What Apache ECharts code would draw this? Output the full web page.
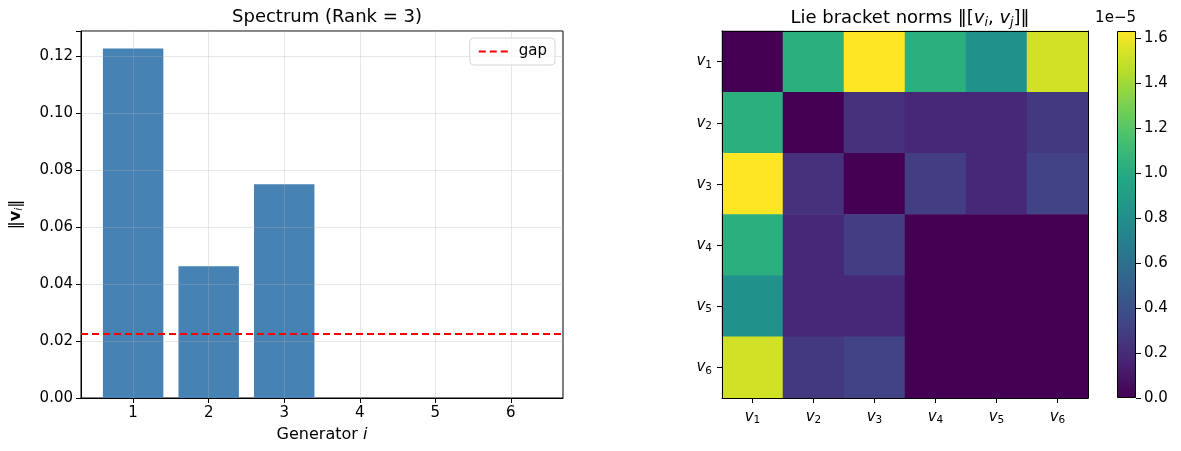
<!DOCTYPE html>
<html>
<head>
<meta charset="utf-8">
<script src="https://cdn.jsdelivr.net/npm/echarts@6/dist/echarts.min.js"></script>
<style>
  html, body { margin: 0; padding: 0; background: #fff; }
  #chart { width: 1181px; height: 451px; }
</style>
</head>
<body>
<div id="chart"></div>
<script>
// ---- data ----
// left: generator norms ||v_i||
const GENERATORS = [1, 2, 3, 4, 5, 6];
const NORMS = [0.1228, 0.0463, 0.0751, 0.00002, 0.00001, 0.000005];
const GAP_VALUE = 0.0225;
const NORM_TICKS = [0, 0.02, 0.04, 0.06, 0.08, 0.10, 0.12];

// right: Lie bracket norms, in units of 1e-5
const HEAT_LABELS = ["1", "2", "3", "4", "5", "6"];
const ROW_1 = [0, 1.03, 1.633, 1.03, 0.82, 1.52];
const ROW_2 = [1.03, 0, 0.23, 0.18, 0.18, 0.27];
const ROW_3 = [1.633, 0.23, 0, 0.29, 0.18, 0.32];
const ROW_4 = [1.03, 0.18, 0.29, 0, 0, 0];
const ROW_5 = [0.82, 0.18, 0.18, 0, 0, 0];
const ROW_6 = [1.52, 0.27, 0.32, 0, 0, 0];
const CBAR_TICKS = [0, 0.2, 0.4, 0.6, 0.8, 1.0, 1.2, 1.4, 1.6];
const CBAR_EXP = "1e\u22125";

// ---- style ----
const FONT = "DejaVu Sans";
const BAR_COLOR = "#4682b4";
const GRID_LINE = "rgba(176,176,176,0.3)";
const VIRIDIS = [
  "#440154", "#482475", "#414487", "#355f8d", "#2a788e", "#21918c",
  "#22a884", "#44bf70", "#7ad151", "#bddf26", "#fde725",
];

const rows = [ROW_1, ROW_2, ROW_3, ROW_4, ROW_5, ROW_6];
const heatData = [];
rows.forEach(function (row, i) {
  row.forEach(function (v, j) { heatData.push([j, i, v]); });
});
const heatMax = Math.max.apply(null, heatData.map(function (d) { return d[2]; }));

// matplotlib style x range: bars of width 0.8 plus 5% margins
const BAR_HALF = 0.4;
const xSpan = (GENERATORS[GENERATORS.length - 1] + BAR_HALF) - (GENERATORS[0] - BAR_HALF);
const X_MIN = GENERATORS[0] - BAR_HALF - 0.05 * xSpan;
const X_MAX = GENERATORS[GENERATORS.length - 1] + BAR_HALF + 0.05 * xSpan;
const Y_MAX = Math.max.apply(null, NORMS) * 1.05;

const subRich = {
  v: { fontFamily: FONT, fontSize: 15, fontStyle: "italic", fontWeight: "normal", color: "#000" },
  s: { fontFamily: FONT, fontSize: 10.5, fontWeight: "normal", color: "#000", padding: [7, 0, 0, 0] },
};
function vLabel(k) { return "{v|v}{s|" + k + "}"; }

const chart = echarts.init(document.getElementById("chart"), null, { renderer: "canvas" });

const tickStyle = { show: true, inside: false, length: 5, lineStyle: { color: "#000", width: 1 } };
const lineStyle = { show: true, lineStyle: { color: "#000", width: 1 } };

chart.setOption({
  animation: false,
  textStyle: { fontFamily: FONT, color: "#000" },
  title: [
    {
      text: "Spectrum (Rank = 3)",
      left: 322, top: 3, textAlign: "center",
      textStyle: { fontFamily: FONT, fontSize: 18, fontWeight: "normal", color: "#000" },
    },
    {
      text: "{t|Lie bracket norms \u2016[}{v|v}{s|i}{t|, }{v|v}{s|j}{t|]\u2016}",
      left: 905, top: 3, textAlign: "center",
      textStyle: {
        fontWeight: "normal",
        rich: {
          t: { fontFamily: FONT, fontSize: 18, fontWeight: "normal", color: "#000" },
          v: { fontFamily: FONT, fontSize: 18, fontStyle: "italic", fontWeight: "normal", color: "#000" },
          s: { fontFamily: FONT, fontSize: 12.5, fontStyle: "italic", fontWeight: "normal", color: "#000", padding: [8, 0, 0, 0] },
        },
      },
    },
  ],
  legend: {
    data: ["gap"],
    right: 626, top: 38,
    orient: "vertical",
    padding: [6, 8, 6, 8],
    itemWidth: 31, itemHeight: 10,
    itemStyle: { opacity: 0 },
    backgroundColor: "rgba(255,255,255,0.8)",
    borderColor: "#d6d6d6", borderWidth: 1, borderRadius: 4,
    textStyle: { fontFamily: FONT, fontSize: 15, color: "#000", padding: [0, 0, 0, 4] },
  },
  grid: [
    { left: 81, top: 31, width: 482, height: 367, show: true, borderColor: "#000", borderWidth: 1, backgroundColor: "transparent" },
    { left: 722, top: 31, width: 366, height: 367 },
    { left: 1117, top: 31, width: 19, height: 367 },
  ],
  visualMap: {
    show: false, type: "continuous", seriesIndex: 2,
    min: 0, max: heatMax, inRange: { color: VIRIDIS },
  },
  xAxis: [
    {
      gridIndex: 0, type: "value", min: X_MIN, max: X_MAX, z: 3,
      name: "{t|Generator }{i|i}", nameLocation: "middle", nameGap: 29,
      nameTextStyle: { rich: {
        t: { fontFamily: FONT, fontSize: 16, color: "#000" },
        i: { fontFamily: FONT, fontSize: 16, fontStyle: "italic", color: "#000" },
      } },
      axisLine: lineStyle,
      axisTick: Object.assign({ customValues: GENERATORS }, tickStyle),
      axisLabel: { customValues: GENERATORS, fontFamily: FONT, fontSize: 15, color: "#000", margin: 8 },
      splitLine: { show: true, lineStyle: { color: GRID_LINE, width: 1 } },
    },
    {
      gridIndex: 1, type: "category", data: HEAT_LABELS, z: 3,
      axisLine: lineStyle,
      axisTick: Object.assign({ alignWithLabel: true, interval: 0 }, tickStyle),
      axisLabel: { formatter: vLabel, rich: subRich, margin: 10, interval: 0 },
      splitLine: { show: false },
    },
    {
      gridIndex: 1, type: "category", data: HEAT_LABELS, position: "top", z: 3,
      axisLine: lineStyle, axisTick: { show: false }, axisLabel: { show: false },
    },
    {
      gridIndex: 2, type: "category", data: ["cb"], show: false,
    },
  ],
  yAxis: [
    {
      gridIndex: 0, type: "value", min: 0, max: Y_MAX, interval: 0.02, z: 3,
      name: "{t|\u2016}{b|v}{s|i}{t|\u2016}", nameLocation: "middle", nameGap: 56,
      nameTextStyle: { rich: {
        t: { fontFamily: FONT, fontSize: 16, color: "#000" },
        b: { fontFamily: FONT, fontSize: 16, fontWeight: "bold", color: "#000" },
        s: { fontFamily: FONT, fontSize: 11, fontStyle: "italic", color: "#000", padding: [7, 0, 0, 0] },
      } },
      axisLine: lineStyle, axisTick: tickStyle,
      axisLabel: {
        fontFamily: FONT, fontSize: 15, color: "#000", margin: 8,
        customValues: NORM_TICKS,
        formatter: function (v) { return v.toFixed(2); },
      },
      splitLine: { show: true, lineStyle: { color: GRID_LINE, width: 1 } },
    },
    {
      gridIndex: 1, type: "category", data: HEAT_LABELS, inverse: true, z: 3,
      axisLine: lineStyle,
      axisTick: Object.assign({ alignWithLabel: true, interval: 0 }, tickStyle),
      axisLabel: { formatter: vLabel, rich: subRich, margin: 10, interval: 0 },
      splitLine: { show: false },
    },
    {
      gridIndex: 1, type: "category", data: HEAT_LABELS, inverse: true, position: "right", z: 3,
      axisLine: lineStyle, axisTick: { show: false }, axisLabel: { show: false },
    },
    {
      gridIndex: 2, type: "value", min: 0, max: heatMax, position: "right", z: 3,
      name: CBAR_EXP, nameLocation: "end", nameGap: 5,
      nameTextStyle: { fontFamily: FONT, fontSize: 15, color: "#000", align: "right" },
      axisLine: { show: false },
      axisTick: Object.assign({ customValues: CBAR_TICKS }, tickStyle),
      axisLabel: {
        customValues: CBAR_TICKS, fontFamily: FONT, fontSize: 15, color: "#000", margin: 8,
        formatter: function (v) { return v.toFixed(1); },
      },
      splitLine: { show: false },
    },
  ],
  series: [
    {
      type: "custom", name: "norm", xAxisIndex: 0, yAxisIndex: 0, z: 1,
      data: GENERATORS.map(function (g, i) { return [g, NORMS[i]]; }),
      encode: { x: 0, y: 1 },
      renderItem: function (params, api) {
        const x = api.value(0), y = api.value(1);
        const p0 = api.coord([x - BAR_HALF, y]);
        const p1 = api.coord([x + BAR_HALF, 0]);
        return {
          type: "rect",
          shape: { x: p0[0], y: p0[1], width: p1[0] - p0[0], height: p1[1] - p0[1] },
          style: { fill: BAR_COLOR },
        };
      },
    },
    {
      type: "line", name: "gap", xAxisIndex: 0, yAxisIndex: 0, z: 4,
      symbol: "none", silent: true,
      data: [[X_MIN, GAP_VALUE], [X_MAX, GAP_VALUE]],
      lineStyle: { color: "#ff0000", width: 2, type: [7, 4] },
      itemStyle: { color: "#ff0000" },
    },
    {
      type: "heatmap", xAxisIndex: 1, yAxisIndex: 1, z: 1,
      data: heatData,
      itemStyle: { borderWidth: 0 },
      emphasis: { disabled: true },
    },
    {
      type: "bar", xAxisIndex: 3, yAxisIndex: 3,
      data: [heatMax], barWidth: "100%", silent: true,
      itemStyle: {
        borderColor: "#000", borderWidth: 1,
        color: new echarts.graphic.LinearGradient(0, 1, 0, 0,
          VIRIDIS.map(function (c, i) { return { offset: i / (VIRIDIS.length - 1), color: c }; })),
      },
    },
  ],
});
</script>
</body>
</html>
